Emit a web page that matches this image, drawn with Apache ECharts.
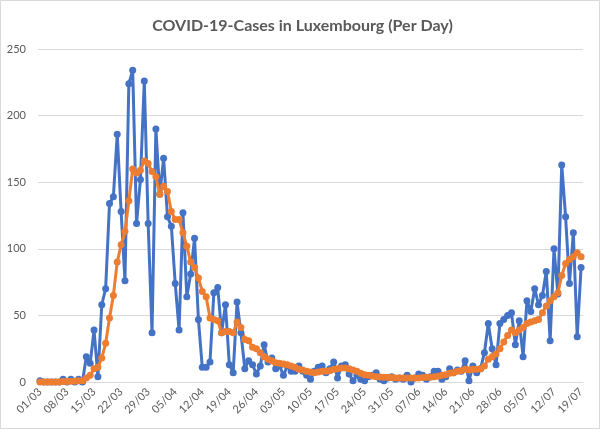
<!DOCTYPE html>
<html>
<head>
<meta charset="utf-8">
<script src="https://cdn.jsdelivr.net/npm/echarts@6/dist/echarts.min.js"></script>
<style>
  html, body { margin: 0; padding: 0; background: #fff; }
  #chart { width: 605px; height: 430px; }
</style>
</head>
<body>
<div id="chart"></div>
<script>
// days from 01/03 to 19/07
var monthStarts = [[3, 31], [4, 30], [5, 31], [6, 30], [7, 19]];
var days = [];
monthStarts.forEach(function(m) {
  for (var d = 1; d <= m[1]; d++) {
    days.push((d < 10 ? '0' + d : '' + d) + '/' + (m[0] < 10 ? '0' + m[0] : m[0]));
  }
});

// new cases per day (blue)
var cases = [
  1, 0, 0, 0, 0, 0, 2, 0, 2, 0, 2, 0,
  19, 14, 39, 4, 58, 70,
  134, 139, 186, 128, 76, 224, 234, 119, 152, 226, 119, 37, 190,
  141, 168, 124, 117, 74, 39, 127, 64, 81, 108, 47, 11, 11, 15, 67, 71, 37,
  58, 13, 7, 60, 37, 10, 16, 13, 6, 12, 28, 15, 18,
  10, 12, 5, 12, 8, 8, 12, 8, 5, 2, 8, 11, 12, 7, 10, 15,
  3, 12, 13, 6, 1, 5, 2, 1, 4, 5, 7, 2, 1, 3, 4, 2, 3, 2, 5, 0, 3, 6, 5, 2, 4, 8,
  8, 2, 4, 10, 7, 9, 8, 16, 1, 12, 7, 10, 22,
  44, 25, 13, 44, 47, 50, 52, 28, 46, 19, 61, 53, 70, 58, 65, 83, 31, 100, 66, 163, 124, 74, 112, 34, 86
];

// 7-day average (orange)
var average = [
  0, 0, 0, 0, 0, 0, 0.3, 0.3, 0.6, 0.6, 0.9, 0.9,
  3, 5, 10, 11, 18, 29,
  48, 65, 90, 103, 113, 136, 160, 157, 159, 166, 164, 158, 154,
  141, 147, 143, 128, 122, 122, 112, 102, 90, 86, 78, 68, 64, 48, 47, 46, 37,
  38, 38, 37, 45, 41, 32, 31, 26, 25, 22, 19, 17, 16,
  14.5, 14, 13.5, 13, 12, 11, 9.5, 9, 8, 7.5, 7, 7.5, 8, 8, 8.5, 9.5,
  10, 10.5, 10.5, 10, 9, 8, 6.5, 5.5, 5, 4.5, 4, 3.7, 3.5, 3.5, 3.3, 3, 3, 3, 3, 3, 3, 3, 3.3, 3.5, 3.5, 4,
  4.3, 5, 5.5, 6.5, 7, 8, 8.5, 9.5, 9, 9.5, 9.5, 10, 12,
  17, 19, 21, 25, 30, 35, 39, 37, 39, 41, 44, 45, 46, 47, 52, 57, 61, 64, 67, 80, 89, 92, 94, 97, 94
];

var font = 'Lato';
var textColor = '#595959';
var gridColor = '#d9d9d9';

var chart = echarts.init(document.getElementById('chart'), null, { renderer: 'canvas' });

chart.setOption({
  backgroundColor: '#fff',
  animation: false,
  title: {
    text: 'COVID-19-Cases in Luxembourg (Per Day)',
    left: 'center',
    top: 13,
    textStyle: { color: textColor, fontSize: 16, fontWeight: 'bold', fontFamily: font }
  },
  graphic: [{
    type: 'rect',
    shape: { x: 0.5, y: 0.5, width: 599, height: 428 },
    style: { fill: 'none', stroke: gridColor, lineWidth: 1 },
    silent: true
  }],
  grid: { left: 38, right: 22, top: 49, bottom: 48 },
  xAxis: {
    type: 'category',
    data: days,
    boundaryGap: true,
    axisTick: { show: false },
    axisLine: { lineStyle: { color: gridColor } },
    axisLabel: {
      interval: 6,
      rotate: 45,
      margin: 8,
      color: textColor,
      fontSize: 11,
      fontFamily: font
    }
  },
  yAxis: {
    type: 'value',
    min: 0,
    max: 250,
    interval: 50,
    axisLine: { show: false },
    axisTick: { show: false },
    axisLabel: { color: textColor, fontSize: 11, fontFamily: font, margin: 12 },
    splitLine: { lineStyle: { color: gridColor } }
  },
  series: [
    {
      name: 'Cases',
      type: 'line',
      data: cases,
      symbol: 'circle',
      symbolSize: 7,
      showAllSymbol: true,
      lineStyle: { color: '#4472C4', width: 3 },
      itemStyle: { color: '#4472C4' }
    },
    {
      name: '7-day average',
      type: 'line',
      data: average,
      symbol: 'circle',
      symbolSize: 7,
      showAllSymbol: true,
      lineStyle: { color: '#ED7D31', width: 3 },
      itemStyle: { color: '#ED7D31' }
    }
  ]
});
</script>
</body>
</html>
